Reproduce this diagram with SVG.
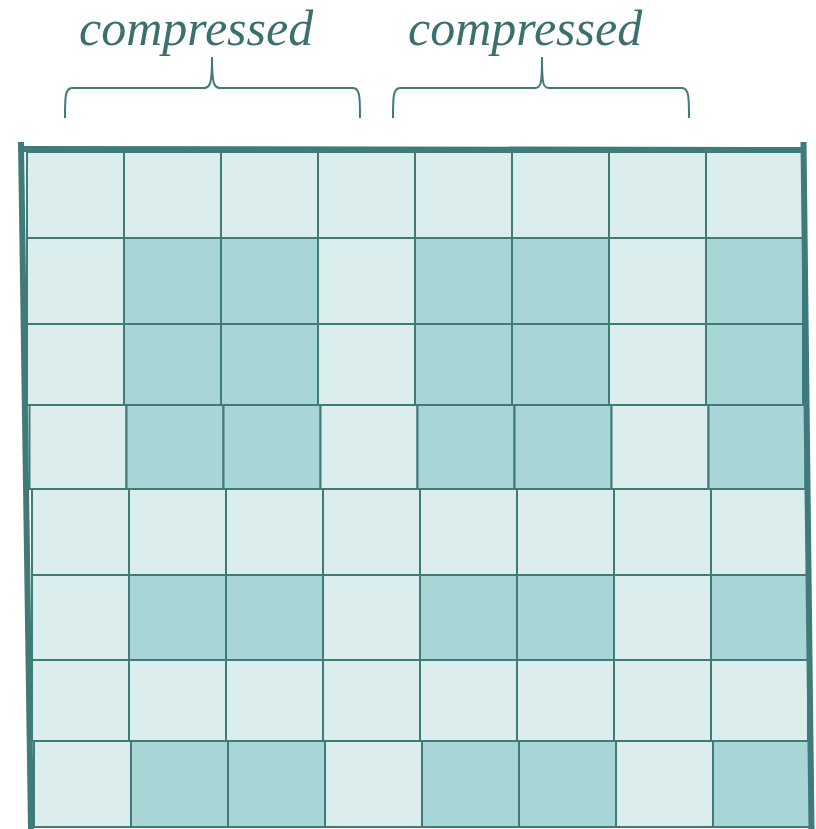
<svg xmlns="http://www.w3.org/2000/svg" width="816" height="829" viewBox="0 0 816 829">
<style>
.l{fill:#DCEDED;stroke:#3F7B79;stroke-width:2}
.d{fill:#A8D5D5;stroke:#3F7B79;stroke-width:2}
.b{fill:none;stroke:#3F7B79;stroke-width:6;stroke-linecap:butt}
.br{fill:none;stroke:#3F7B79;stroke-width:2}
.t{font-family:"Liberation Serif",serif;font-style:italic;font-size:50px;fill:#3B706E}
</style>
<rect width="816" height="829" fill="#fff"/>
<g id="labels">
<text class="t" x="79" y="45">compressed</text>
<text class="t" x="408" y="45">compressed</text>
</g>
<g id="braces">
<path class="br" d="M65,118 C65,98 65,88 72,88 L204,88 C210,88 212,84 212,57 C212,84 214,88 220,88 L353,88 C360,88 360,98 360,118"/>
<path class="br" d="M393,118 C393,98 393,88 400,88 L535,88 C541,88 542,84 542,57 C542,84 543,88 549,88 L682,88 C689,88 689,98 689,118"/>
</g>
<g id="grid">
<g id="row1" transform="translate(27,152)">
<rect class="l" x="0" y="0" width="97" height="86"/><rect class="l" x="97" y="0" width="97" height="86"/><rect class="l" x="194" y="0" width="97" height="86"/><rect class="l" x="291" y="0" width="97" height="86"/><rect class="l" x="388" y="0" width="97" height="86"/><rect class="l" x="485" y="0" width="97" height="86"/><rect class="l" x="582" y="0" width="97" height="86"/><rect class="l" x="679" y="0" width="97" height="86"/>
</g>
<g id="row2" transform="translate(27,238)">
<rect class="l" x="0" y="0" width="97" height="86"/><rect class="d" x="97" y="0" width="97" height="86"/><rect class="d" x="194" y="0" width="97" height="86"/><rect class="l" x="291" y="0" width="97" height="86"/><rect class="d" x="388" y="0" width="97" height="86"/><rect class="d" x="485" y="0" width="97" height="86"/><rect class="l" x="582" y="0" width="97" height="86"/><rect class="d" x="679" y="0" width="97" height="86"/>
</g>
<g id="row3" transform="translate(27,324)">
<rect class="l" x="0" y="0" width="97" height="81"/><rect class="d" x="97" y="0" width="97" height="81"/><rect class="d" x="194" y="0" width="97" height="81"/><rect class="l" x="291" y="0" width="97" height="81"/><rect class="d" x="388" y="0" width="97" height="81"/><rect class="d" x="485" y="0" width="97" height="81"/><rect class="l" x="582" y="0" width="97" height="81"/><rect class="d" x="679" y="0" width="97" height="81"/>
</g>
<g id="row4" transform="translate(29.5,405)">
<rect class="l" x="0" y="0" width="97" height="84"/><rect class="d" x="97" y="0" width="97" height="84"/><rect class="d" x="194" y="0" width="97" height="84"/><rect class="l" x="291" y="0" width="97" height="84"/><rect class="d" x="388" y="0" width="97" height="84"/><rect class="d" x="485" y="0" width="97" height="84"/><rect class="l" x="582" y="0" width="97" height="84"/><rect class="d" x="679" y="0" width="97" height="84"/>
</g>
<g id="row5" transform="translate(32,489)">
<rect class="l" x="0" y="0" width="97" height="86"/><rect class="l" x="97" y="0" width="97" height="86"/><rect class="l" x="194" y="0" width="97" height="86"/><rect class="l" x="291" y="0" width="97" height="86"/><rect class="l" x="388" y="0" width="97" height="86"/><rect class="l" x="485" y="0" width="97" height="86"/><rect class="l" x="582" y="0" width="97" height="86"/><rect class="l" x="679" y="0" width="97" height="86"/>
</g>
<g id="row6" transform="translate(32,575)">
<rect class="l" x="0" y="0" width="97" height="85"/><rect class="d" x="97" y="0" width="97" height="85"/><rect class="d" x="194" y="0" width="97" height="85"/><rect class="l" x="291" y="0" width="97" height="85"/><rect class="d" x="388" y="0" width="97" height="85"/><rect class="d" x="485" y="0" width="97" height="85"/><rect class="l" x="582" y="0" width="97" height="85"/><rect class="d" x="679" y="0" width="97" height="85"/>
</g>
<g id="row7" transform="translate(32,660)">
<rect class="l" x="0" y="0" width="97" height="81"/><rect class="l" x="97" y="0" width="97" height="81"/><rect class="l" x="194" y="0" width="97" height="81"/><rect class="l" x="291" y="0" width="97" height="81"/><rect class="l" x="388" y="0" width="97" height="81"/><rect class="l" x="485" y="0" width="97" height="81"/><rect class="l" x="582" y="0" width="97" height="81"/><rect class="l" x="679" y="0" width="97" height="81"/>
</g>
<g id="row8" transform="translate(34,741)">
<rect class="l" x="0" y="0" width="97" height="86"/><rect class="d" x="97" y="0" width="97" height="86"/><rect class="d" x="194" y="0" width="97" height="86"/><rect class="l" x="291" y="0" width="97" height="86"/><rect class="d" x="388" y="0" width="97" height="86"/><rect class="d" x="485" y="0" width="97" height="86"/><rect class="l" x="582" y="0" width="97" height="86"/><rect class="d" x="679" y="0" width="97" height="86"/>
</g>
</g>
<g id="frame">
<line class="b" x1="21" y1="142" x2="31" y2="829"/>
<line class="b" x1="18" y1="149" x2="803" y2="150"/>
<line class="b" x1="803.5" y1="142" x2="811.5" y2="829"/>
</g>
</svg>
